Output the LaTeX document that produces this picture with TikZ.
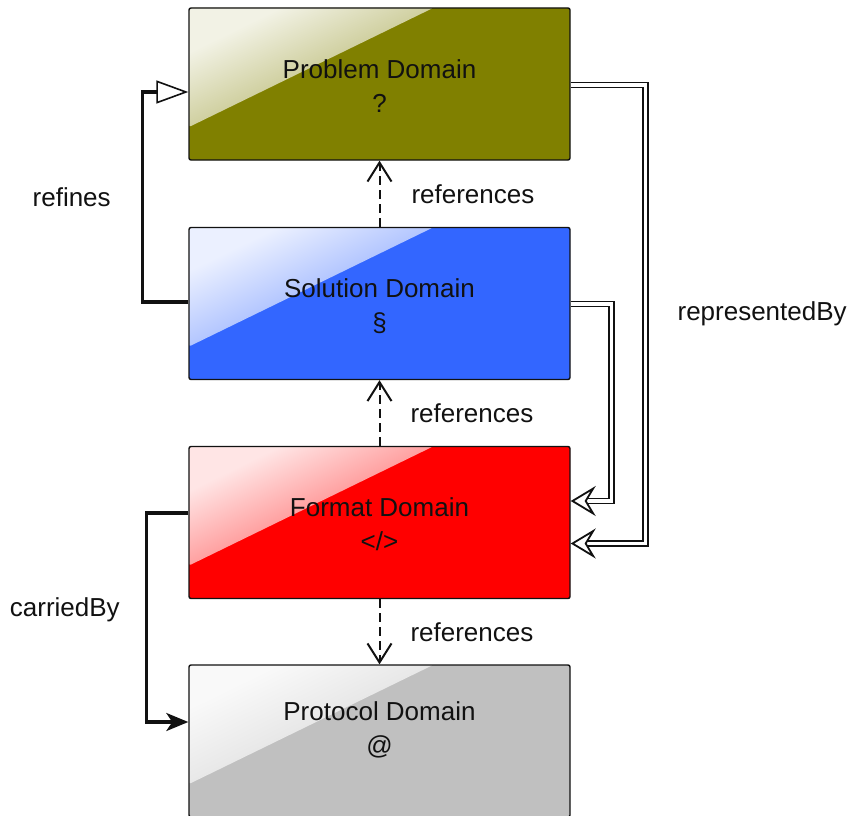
\documentclass[tikz,border=0pt]{standalone}
\usepackage{fontspec}
\setmainfont{Liberation Sans}
\usetikzlibrary{arrows.meta}
\definecolor{probcol}{HTML}{808000}
\definecolor{solcol}{HTML}{3366FF}
\definecolor{fmtcol}{HTML}{FF0000}
\definecolor{protcol}{HTML}{C0C0C0}
\definecolor{ink}{HTML}{111111}
\begin{document}
\begin{tikzpicture}[x=1pt,y=-1pt,
  txt/.style={font={\fontsize{26pt}{34pt}\selectfont}, text=ink},
  lab/.style={txt, inner sep=0pt},
  glossbox/.style={txt, draw=ink, line width=1.4pt, rounded corners=2pt,
    minimum width=381pt, minimum height=152pt, inner sep=0pt, align=center,
    text height=56pt, text depth=0pt,
    fill=#1,
    path picture={
      \shade[top color=white!90!#1, bottom color=#1, shading angle=26]
        (path picture bounding box.north west)
        -- ([xshift=244pt]path picture bounding box.north west)
        -- ([yshift=-119pt]path picture bounding box.north west)
        -- cycle;
    }},
  refarrow/.style={line width=2pt, draw=ink, dash pattern=on 9pt off 5pt,
    -{Straight Barb[length=19pt, width=24pt, line width=2pt]}},
  heavyline/.style={line width=3.2pt, draw=ink},
  dblline/.style={draw=ink, line width=1.8pt, double=white, double distance=3.2pt},
  dbltip/.style={-{Stealth[open, fill=white, length=25pt, width=30pt, inset=9pt, line width=1.8pt]}}
]
\useasboundingbox (0,0) rectangle (851,816);

% the four domains
\node[glossbox=probcol] (prob) at (379.5,84)    {Problem Domain\\?};
\node[glossbox=solcol]  (sol)  at (379.5,303.5) {Solution Domain\\\S};
\node[glossbox=fmtcol]  (fmt)  at (379.5,522.5) {Format Domain\\</>};
\node[glossbox=protcol, text height=26pt] (prot) at (379.5,741) {Protocol Domain\\@};

% references between neighbouring domains
\draw[refarrow] (sol.north) -- node[lab, anchor=west, xshift=31pt] {references} (prob.south);
\draw[refarrow] (fmt.north) -- node[lab, anchor=west, xshift=30pt] {references} (sol.south);
\draw[refarrow] (fmt.south) -- node[lab, anchor=west, xshift=30pt] {references} (prot.north);

% refines
\draw[heavyline, -{Triangle[open, fill=white, length=32pt, width=23pt, line width=1.6pt]}]
  ([yshift=1.5pt]sol.west) -- ++(-46,0)
  |- node[lab, pos=0.25, anchor=east, xshift=-30pt] {refines} ([yshift=-8pt]prob.west);

% carriedBy
\draw[heavyline, -{Stealth[length=22pt, width=18pt, inset=6pt]}]
  ([yshift=9.5pt]fmt.west) -- ++(-42,0)
  |- node[lab, pos=0.232, anchor=east, xshift=-25pt] {carriedBy} ([yshift=19pt]prot.west);

% representedBy
\draw[dblline, dbltip]
  ([yshift=-1pt]prob.east) -- ++(74.5,0)
  |- node[lab, pos=0.25, anchor=west, xshift=31.5pt] {representedBy} ([yshift=-21pt]fmt.east);
\draw[dblline, dbltip]
  ([yshift=-0.5pt]sol.east) -- ++(40.5,0)
  |- ([yshift=21.5pt]fmt.east);
\end{tikzpicture}
\end{document}
